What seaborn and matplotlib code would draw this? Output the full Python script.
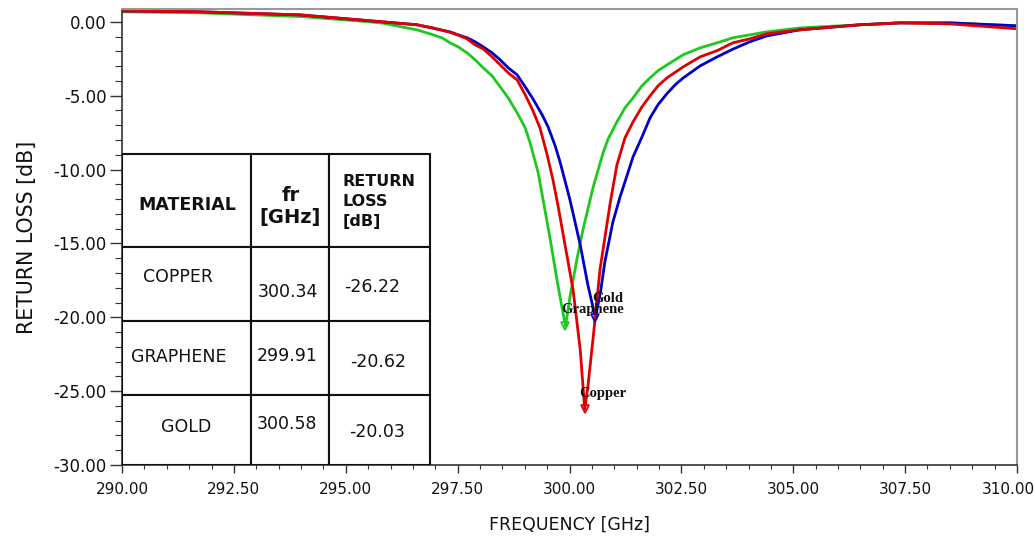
import numpy as np
import pandas as pd
import matplotlib
matplotlib.use("Agg")
import matplotlib.pyplot as plt
from matplotlib.patches import Rectangle
from matplotlib.transforms import ScaledTranslation
import seaborn as sns

# ---- data ----
freq_graphene = [290.00, 291.74, 293.98, 295.47, 295.83, 296.21, 296.59, 296.95, 297.15,
                 297.33, 297.51, 297.71, 297.89, 298.07, 298.27, 298.45, 298.63, 298.83,
                 299.01, 299.12, 299.30, 299.56, 299.72, 299.83, 299.91, 300.01, 300.17,
                 300.30, 300.53, 300.75, 300.86, 301.06, 301.24, 301.42, 301.62, 301.80,
                 301.98, 302.18, 302.54, 302.92, 303.30, 303.65, 304.03, 304.41, 305.15,
                 306.49, 307.39, 308.50, 310.00]
rl_graphene = [0.68, 0.61, 0.36, 0.02, -0.09, -0.32, -0.54, -0.88, -1.08,
               -1.42, -1.69, -2.10, -2.57, -3.11, -3.66, -4.40, -5.15, -6.16,
               -7.18, -8.20, -10.22, -14.56, -17.47, -19.30, -20.62, -18.62, -16.00,
               -14.08, -11.17, -8.87, -7.95, -6.77, -5.82, -5.15, -4.33, -3.79,
               -3.30, -2.91, -2.23, -1.76, -1.42, -1.08, -0.88, -0.68, -0.41,
               -0.20, -0.07, -0.07, -0.27]

freq_copper = [290.00, 291.74, 293.98, 295.47, 296.59, 296.95, 297.33, 297.51, 297.71,
               297.89, 298.07, 298.27, 298.45, 298.63, 298.83, 299.01, 299.18, 299.34,
               299.50, 299.63, 299.74, 299.92, 300.08, 300.24, 300.34, 300.41, 300.53,
               300.68, 300.91, 301.06, 301.24, 301.42, 301.62, 301.80, 301.98, 302.18,
               302.54, 302.92, 303.30, 303.65, 304.03, 304.41, 305.15, 306.49, 307.39,
               308.50, 310.00]
rl_copper = [0.74, 0.68, 0.47, 0.09, -0.20, -0.41, -0.71, -0.90, -1.15,
             -1.56, -1.83, -2.37, -2.91, -3.45, -3.93, -4.94, -6.00, -7.18,
             -9.00, -10.70, -12.39, -15.44, -18.15, -22.21, -26.22, -24.71, -21.33,
             -16.79, -12.25, -9.68, -7.85, -6.77, -5.75, -5.01, -4.33, -3.79,
             -3.05, -2.37, -1.95, -1.42, -1.15, -0.81, -0.54, -0.20, -0.07,
             -0.14, -0.47]

freq_gold = [290.00, 291.74, 293.98, 295.47, 296.59, 297.33, 297.51, 297.71, 297.89,
             298.07, 298.27, 298.45, 298.63, 298.83, 299.01, 299.18, 299.39, 299.52,
             299.68, 299.79, 300.01, 300.24, 300.41, 300.58, 300.70, 300.79, 300.97,
             301.13, 301.29, 301.42, 301.62, 301.80, 301.98, 302.18, 302.36, 302.54,
             302.92, 303.30, 303.65, 304.03, 304.41, 305.15, 306.49, 307.39, 308.50,
             310.00]
rl_gold = [0.74, 0.68, 0.47, 0.09, -0.20, -0.68, -0.88, -1.08, -1.35,
           -1.69, -2.10, -2.57, -3.11, -3.59, -4.40, -5.20, -6.30, -7.10,
           -8.40, -9.50, -12.05, -15.10, -17.81, -20.03, -18.15, -16.25, -13.54,
           -11.85, -10.36, -9.14, -7.79, -6.50, -5.60, -4.85, -4.27, -3.80,
           -2.98, -2.37, -1.85, -1.35, -0.95, -0.54, -0.20, -0.07, -0.07,
           -0.27]

# table values
materials = ["COPPER", "GRAPHENE", "GOLD"]
fr_ghz = ["300.34", "299.91", "300.58"]
return_loss = ["-26.22", "-20.62", "-20.03"]

# minimum markers
min_labels = ["Copper", "Graphene", "Gold"]
min_freq = [300.34, 299.91, 300.58]
min_rl = [-26.22, -20.62, -20.03]

colors = {"Graphene": "#1ec81e", "Gold": "#0000c8", "Copper": "#e00000"}

df = pd.concat([
    pd.DataFrame({"freq": freq_graphene, "rl": rl_graphene, "material": "Graphene"}),
    pd.DataFrame({"freq": freq_gold, "rl": rl_gold, "material": "Gold"}),
    pd.DataFrame({"freq": freq_copper, "rl": rl_copper, "material": "Copper"}),
])

sns.set_style("ticks")
plt.rcParams['font.family'] = ['DejaVu Sans']

fig = plt.figure(figsize=(10.35, 5.38), dpi=100)
ax = fig.add_axes([0.1179, 0.1357, 0.8647, 0.8476])

sns.lineplot(data=df, x="freq", y="rl", hue="material",
             hue_order=["Graphene", "Gold", "Copper"], palette=colors,
             estimator=None, sort=True, legend=False, linewidth=2.0, ax=ax)

# markers + labels at the minima
offsets = {"Copper": (-3.7, 11.5), "Graphene": (-3.3, 12.5), "Gold": (-2.6, 13.7)}
for lab, f, r in zip(min_labels, min_freq, min_rl):
    ax.plot(f, r, marker="v", ms=6, mfc="none", mec=colors[lab], mew=1.2, zorder=4)
    ax.annotate(lab, (f, r), xytext=offsets[lab], textcoords="offset points",
                ha="left", va="center", fontsize=10.5, fontweight="bold",
                family="Liberation Serif", color="#111111", zorder=5)

ax.set_xlim(290, 310)
ax.set_ylim(-30, 0.87)
ax.set_xticks(np.arange(290, 310.1, 2.5))
ax.set_xticks(np.arange(290, 310.1, 0.5), minor=True)
ax.set_yticks(np.arange(-30, 0.1, 5))
ax.set_yticks(np.arange(-30, 0.1, 1), minor=True)
ax.xaxis.set_major_formatter(matplotlib.ticker.FormatStrFormatter("%.2f"))
ax.yaxis.set_major_formatter(matplotlib.ticker.FormatStrFormatter("%.2f"))
ax.tick_params(axis="x", which="major", length=6, width=1, labelsize=11, pad=6,
               color="#333333", labelcolor="#111111")
ax.tick_params(axis="x", which="minor", length=3, width=0.8, color="#333333")
ax.tick_params(axis="y", which="major", length=9, width=1, labelsize=12, pad=2,
               color="#333333", labelcolor="#111111")
ax.tick_params(axis="y", which="minor", length=5, width=0.8, color="#333333")

# last x label sits a little left, as in the reference
fig.canvas.draw()
last = ax.get_xticklabels()[-1]
last.set_transform(last.get_transform() + ScaledTranslation(-0.09, 0, fig.dpi_scale_trans))

for side in ["left", "bottom"]:
    ax.spines[side].set_color("#333333")
    ax.spines[side].set_linewidth(1.2)
for side in ["top", "right"]:
    ax.spines[side].set_visible(True)
    ax.spines[side].set_color("#999999")
    ax.spines[side].set_linewidth(1.5)

ax.set_xlabel("FREQUENCY [GHz]", fontsize=12.5, labelpad=14, color="#111111")
ax.set_ylabel("RETURN LOSS [dB]", fontsize=14.8, labelpad=12, color="#111111")

# ---- table in the lower left corner (axes coords) ----
col_edges = [0.0, 0.144, 0.231, 0.344]
row_edges = [0.682, 0.478, 0.316, 0.154, 0.0]
for i in range(len(row_edges) - 1):
    for j in range(len(col_edges) - 1):
        ax.add_patch(Rectangle((col_edges[j], row_edges[i + 1]),
                               col_edges[j + 1] - col_edges[j],
                               row_edges[i] - row_edges[i + 1],
                               transform=ax.transAxes, facecolor="white",
                               edgecolor="#111111", linewidth=1.5, zorder=3))

tkw = dict(transform=ax.transAxes, zorder=4, color="#111111")
ax.text(0.0726, 0.570, "MATERIAL", ha="center", va="center", fontsize=12.5, fontweight="bold", **tkw)
ax.text(0.188, 0.592, "fr", ha="center", va="center", fontsize=14, fontweight="bold", **tkw)
ax.text(0.188, 0.542, "[GHz]", ha="center", va="center", fontsize=14, fontweight="bold", **tkw)
ax.text(0.246, 0.621, "RETURN", ha="left", va="center", fontsize=11.5, fontweight="bold", **tkw)
ax.text(0.246, 0.577, "LOSS", ha="left", va="center", fontsize=11.5, fontweight="bold", **tkw)
ax.text(0.246, 0.533, "[dB]", ha="left", va="center", fontsize=11.5, fontweight="bold", **tkw)

mat_pos = [(0.063, 0.412), (0.063, 0.237), (0.072, 0.083)]
fr_pos = [(0.185, 0.379), (0.185, 0.239), (0.184, 0.090)]
rl_pos = [(0.280, 0.390), (0.286, 0.226), (0.285, 0.072)]
for k in range(3):
    ax.text(*mat_pos[k], materials[k], ha="center", va="center", fontsize=12.5, **tkw)
    ax.text(*fr_pos[k], fr_ghz[k], ha="center", va="center", fontsize=12.5, **tkw)
    ax.text(*rl_pos[k], return_loss[k], ha="center", va="center", fontsize=12.5, **tkw)

fig.savefig("out.png", dpi=100)
